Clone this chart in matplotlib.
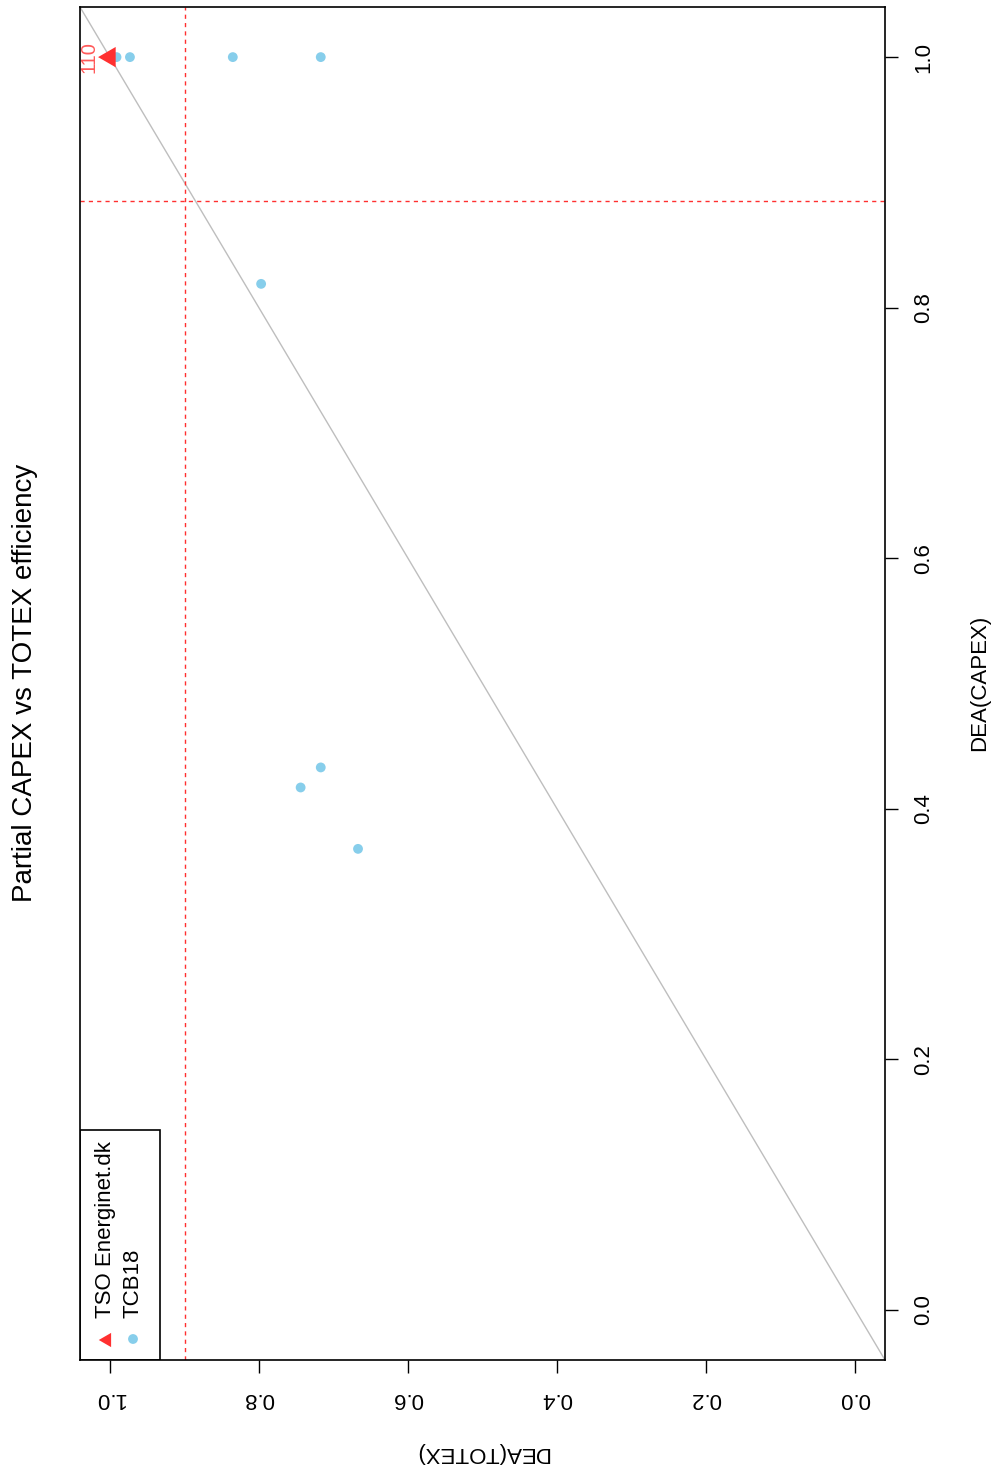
import matplotlib
matplotlib.use("Agg")
import matplotlib.pyplot as plt
from matplotlib.patches import Rectangle

plt.rcParams['font.family'] = ['Liberation Sans', 'DejaVu Sans']

# efficiency scores
tcb_totex = [0.991, 0.973, 0.835, 0.717, 0.797, 0.744, 0.717, 0.667]
tcb_capex = [1.0, 1.0, 1.0, 1.0, 0.819, 0.417, 0.433, 0.368]
tso_totex = [1.0]
tso_capex = [1.0]
tso_label = ['110']
mean_totex = 0.899
mean_capex = 0.885
ticks = [0.0, 0.2, 0.4, 0.6, 0.8, 1.0]
legend_names = ['TSO Energinet.dk', 'TCB18']

red = '#FF3030'
blue = '#87CEEB'
# R-style triangle (centred on its centroid), pointing left after rotation
tri = [(-1, 0), (0.5, 0.866), (0.5, -0.866), (-1, 0)]

fig = plt.figure(figsize=(9.96, 14.72), dpi=100)
# the R plot is rotated 90 deg: TOTEX runs right->left, CAPEX bottom->top
ax = fig.add_axes([80/996, 1 - 1360/1472, 805/996, 1353/1472])
ax.set_xlim(1.04, -0.04)
ax.set_ylim(-0.04, 1.04)

ax.axline((0, 0), slope=1, color='#BEBEBE', lw=1, zorder=1)
ax.axvline(mean_totex, color=red, lw=1, ls=(0, (3, 3)), zorder=1)
ax.axhline(mean_capex, color=red, lw=1, ls=(0, (3, 3)), zorder=1)

ax.scatter(tcb_totex, tcb_capex, s=50, color=blue, edgecolors='none', zorder=2)
ax.scatter(tso_totex, tso_capex, s=285, marker=tri, color=red, edgecolors='none', zorder=3)
for x, y, lab in zip(tso_totex, tso_capex, tso_label):
    ax.annotate(lab, (x, y), xytext=(-21, 0), textcoords='offset pixels',
                rotation=90, ha='center', va='center', color=red, alpha=0.8, fontsize=14.5)

ax.set_xticks(ticks)
ax.set_xticklabels([f'{t:.1f}' for t in ticks], rotation=180)
ax.set_yticks(ticks)
ax.set_yticklabels([f'{t:.1f}' for t in ticks], rotation=90, va='center')
ax.yaxis.tick_right()
ax.tick_params(direction='out', length=9.5, width=1, labelsize=16, pad=11)
for sp in ax.spines.values():
    sp.set_linewidth(1.2)

# legend box, drawn by hand so the text can be rotated
ax.add_patch(Rectangle((0, 0), 80/805, 230/1353, transform=ax.transAxes,
                       fill=False, edgecolor='black', lw=1.2, zorder=4))
ax.scatter([27/805], [20/1353], transform=ax.transAxes, s=140, marker=tri,
           color=red, edgecolors='none', zorder=5)
ax.scatter([53/805], [21/1353], transform=ax.transAxes, s=50,
           color=blue, edgecolors='none', zorder=5)
for xf, name in zip([25/805, 53/805], legend_names):
    ax.text(xf, 42/1353, name, transform=ax.transAxes, rotation=90,
            ha='center', va='bottom', fontsize=16)

fig.text(25/996, 1 - 683/1472, 'Partial CAPEX vs TOTEX efficiency', rotation=90,
         ha='center', va='center', fontsize=20)
fig.text(980/996, 1 - 683/1472, 'DEA(CAPEX)', rotation=90,
         ha='center', va='center', fontsize=16)
fig.text(482/996, 1 - 1453/1472, 'DEA(TOTEX)', rotation=180,
         ha='center', va='center', fontsize=16)

fig.savefig('out.png', dpi=100)
